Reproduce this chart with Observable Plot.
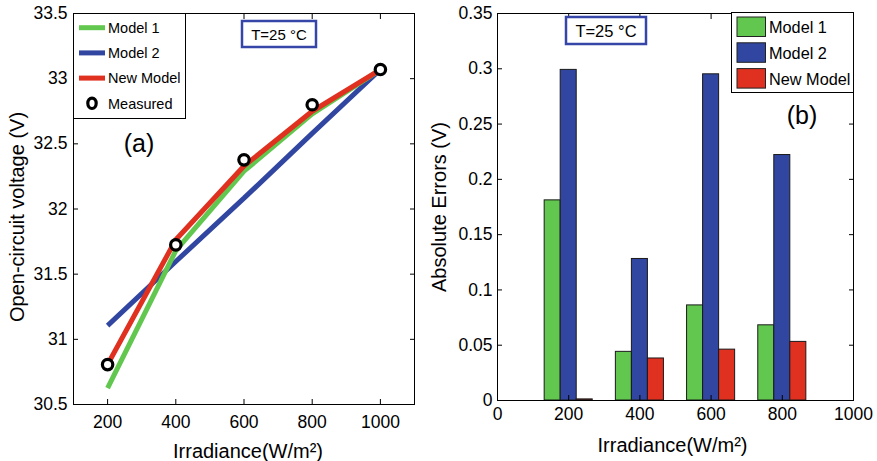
<!DOCTYPE html>
<html>
<head>
<meta charset="utf-8">
<script src="https://cdn.jsdelivr.net/npm/d3@7"></script>
<script src="https://cdn.jsdelivr.net/npm/@observablehq/plot@0.6"></script>
<style>
  html, body { margin: 0; padding: 0; background: #fff; }
  #wrap { position: relative; width: 877px; height: 461px; display: flex; font-family: "Liberation Sans", Arial, sans-serif; }
  #wrap svg { display: block; }
  #overlay { position: absolute; left: 0; top: 0; pointer-events: none; }
</style>
</head>
<body>
<div id="wrap"></div>
<script>
// ---------- data ----------
const irradiance = [200, 400, 600, 800, 1000];
const measured   = [30.806, 31.725, 32.377, 32.800, 33.070];
const model1     = [30.626, 31.680, 32.290, 32.730, 33.070];
const model2     = [31.105, 31.597, 32.083, 32.580, 33.070];
const newModel   = [30.807, 31.764, 32.330, 32.750, 33.070];

const errIrradiance = [200, 400, 600, 800];
const errModel1   = [0.181, 0.044, 0.086, 0.068];
const errModel2   = [0.299, 0.128, 0.295, 0.222];
const errNewModel = [0.001, 0.038, 0.046, 0.053];

const seriesNames = ["Model 1", "Model 2", "New Model"];
const xTicksA = [200, 400, 600, 800, 1000];
const yTicksA = [30.5, 31, 31.5, 32, 32.5, 33, 33.5];
const xTicksB = [0, 200, 400, 600, 800, 1000];
const yTicksB = [0, 0.05, 0.1, 0.15, 0.2, 0.25, 0.3, 0.35];

const colors = {"Model 1": "#62C74E", "Model 2": "#3046A0", "New Model": "#E0301F"};
const font = "Liberation Sans, Arial, sans-serif";

// ---------- table builds ----------
const lineData = [];
[["Model 2", model2], ["Model 1", model1], ["New Model", newModel]].forEach(([name, vals]) => {
  vals.forEach((v, i) => lineData.push({series: name, x: irradiance[i], y: v}));
});
const measData = irradiance.map((x, i) => ({x, y: measured[i]}));

const barW = 45; // bar width in x units
const barData = [];
[errModel1, errModel2, errNewModel].forEach((vals, s) => {
  vals.forEach((v, i) => {
    const c = errIrradiance[i] + (s - 1) * barW;
    barData.push({series: seriesNames[s], x1: c - barW / 2, x2: c + barW / 2, y: v});
  });
});

const blank = () => "";
const plain = d => String(d);

// ---------- chart (a) ----------
const chartA = Plot.plot({
  width: 425, height: 461,
  marginLeft: 73, marginRight: 11, marginTop: 13, marginBottom: 57,
  style: {fontFamily: font, fontSize: "17.5px", color: "#000", background: "#fff"},
  x: {domain: [100, 1100]},
  y: {domain: [30.5, 33.5]},
  marks: [
    Plot.line(lineData, {x: "x", y: "y", z: "series", stroke: d => colors[d.series], strokeWidth: 5, strokeLinejoin: "miter", strokeLinecap: "butt"}),
    Plot.dot(measData, {x: "x", y: "y", r: 5.2, stroke: "#000", strokeWidth: 3.2, fill: "#fff"}),
    Plot.axisX({anchor: "bottom", ticks: xTicksA, tickSize: -5, tickPadding: 16, fontSize: 17.5, label: null, tickFormat: plain}),
    Plot.axisX({anchor: "top", ticks: xTicksA, tickSize: -5, tickFormat: blank, label: null}),
    Plot.axisY({anchor: "left", ticks: yTicksA, tickSize: -5, tickPadding: 11, fontSize: 17.5, label: null, tickFormat: plain}),
    Plot.axisY({anchor: "right", ticks: yTicksA, tickSize: -5, tickFormat: blank, label: null}),
    Plot.frame({stroke: "#000", strokeWidth: 1}),
    Plot.text(["Open-circuit voltage (V)"], {frameAnchor: "left", textAnchor: "middle", dx: -56, dy: 8, rotate: -90, fontSize: 20, fill: "#000"}),
    Plot.text(["Irradiance(W/m²)"], {frameAnchor: "bottom", dy: 53, dx: 4, fontSize: 20, fill: "#000"})
  ]
});

// ---------- chart (b) ----------
const chartB = Plot.plot({
  width: 452, height: 461,
  marginLeft: 72, marginRight: 24, marginTop: 13, marginBottom: 61,
  style: {fontFamily: font, fontSize: "17.5px", color: "#000", background: "#fff"},
  x: {domain: [0, 1000]},
  y: {domain: [0, 0.35]},
  marks: [
    Plot.rectY(barData, {x1: "x1", x2: "x2", y: "y", fill: d => colors[d.series], stroke: "#1a1a1a", strokeWidth: 1}),
    Plot.axisX({anchor: "bottom", ticks: xTicksB, tickSize: -5, tickPadding: 12, fontSize: 17.5, label: null, tickFormat: plain}),
    Plot.axisX({anchor: "top", ticks: xTicksB, tickSize: -5, tickFormat: blank, label: null}),
    Plot.axisY({anchor: "left", ticks: yTicksB, tickSize: -5, tickPadding: 10, fontSize: 17.5, label: null, tickFormat: plain}),
    Plot.axisY({anchor: "right", ticks: yTicksB, tickSize: -5, tickFormat: blank, label: null}),
    Plot.frame({stroke: "#000", strokeWidth: 1}),
    Plot.text(["Absolute Errors (V)"], {frameAnchor: "left", textAnchor: "middle", dx: -58, dy: 0, rotate: -90, fontSize: 20, fill: "#000"}),
    Plot.text(["Irradiance(W/m²)"], {frameAnchor: "bottom", dy: 51, dx: -3, fontSize: 20, fill: "#000"})
  ]
});

const wrap = document.getElementById("wrap");
wrap.appendChild(chartA);
wrap.appendChild(chartB);

// ---------- overlay: legends & annotations ----------
const ov = d3.select(wrap).append("svg").attr("id", "overlay").attr("width", 877).attr("height", 461)
  .style("font-family", font);

// Legend (a)
const la = ov.append("g");
la.append("rect").attr("x", 73.5).attr("y", 13.5).attr("width", 112).attr("height", 105).attr("fill", "#fff").attr("stroke", "#000");
const legA = ["Model 1", "Model 2", "New Model", "Measured"];
legA.forEach((name, i) => {
  const cy = 27.7 + i * 25.2;
  if (name === "Measured") {
    la.append("ellipse").attr("cx", 92).attr("cy", cy).attr("rx", 4.2).attr("ry", 5.2).attr("fill", "#fff").attr("stroke", "#000").attr("stroke-width", 3.2);
  } else {
    la.append("line").attr("x1", 79).attr("x2", 105).attr("y1", cy).attr("y2", cy).attr("stroke", colors[name]).attr("stroke-width", 5);
  }
  la.append("text").attr("x", 108).attr("y", cy + 5.3).attr("font-size", 14.5).text(name);
});

// T box (a)
ov.append("rect").attr("x", 242).attr("y", 21).attr("width", 74).attr("height", 26).attr("fill", "#fff").attr("stroke", "#3545A8").attr("stroke-width", 2.5);
ov.append("text").attr("x", 279).attr("y", 40).attr("text-anchor", "middle").attr("font-size", 15).text("T=25 °C");
ov.append("text").attr("x", 139).attr("y", 152).attr("text-anchor", "middle").attr("font-size", 25).text("(a)");

// Legend (b)
const lb = ov.append("g");
lb.append("rect").attr("x", 731.5).attr("y", 12.5).attr("width", 122).attr("height", 80).attr("fill", "#fff").attr("stroke", "#000");
seriesNames.forEach((name, i) => {
  const top = 17 + i * 25.8;
  lb.append("rect").attr("x", 737).attr("y", top).attr("width", 28.5).attr("height", 19.5).attr("fill", colors[name]).attr("stroke", "#222").attr("stroke-width", 1);
  lb.append("text").attr("x", 769).attr("y", top + 16).attr("font-size", 16.3).text(name);
});

// T box (b)
ov.append("rect").attr("x", 566).attr("y", 17).attr("width", 80).attr("height", 27).attr("fill", "#fff").attr("stroke", "#3545A8").attr("stroke-width", 2.5);
ov.append("text").attr("x", 606).attr("y", 36.5).attr("text-anchor", "middle").attr("font-size", 16.5).text("T=25 °C");
ov.append("text").attr("x", 802).attr("y", 124).attr("text-anchor", "middle").attr("font-size", 25).text("(b)");
</script>
</body>
</html>
